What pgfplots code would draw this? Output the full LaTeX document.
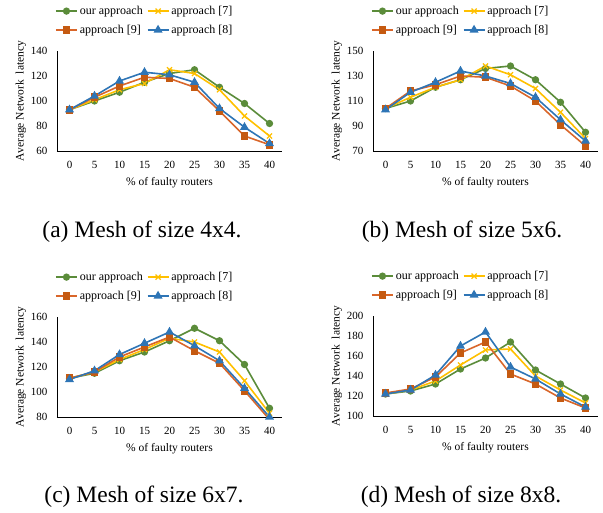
\documentclass[border=0pt]{standalone}
\usepackage{pgfplots}
\pgfplotsset{compat=1.18}
\usepackage{fontspec}
\setmainfont{Liberation Serif}
\definecolor{cgreen}{HTML}{5B8C3A}
\definecolor{cyellow}{HTML}{FFC000}
\definecolor{corange}{HTML}{D9662A}
\definecolor{corangem}{HTML}{C55A11}
\definecolor{cblue}{HTML}{2E75B6}
\pgfplotsset{
  panel/.style={
    scale only axis, width=225pt, height=100pt,
    xmin=-2.5, xmax=42.5, xtick={0,5,...,40},
    axis x line*=bottom, axis y line*=left,
    axis line style={-, black, line width=0.8pt},
    major tick length=0pt,
    /pgf/number format/assume math mode=true,
    tick label style={font=\fontsize{11}{13}\selectfont},
    xticklabel style={yshift=-7pt},
    yticklabel style={xshift=-6pt},
    xlabel={\% of faulty routers},
    ylabel={Average Network\ \ latency},
    label style={font=\fontsize{11.5}{13}\selectfont},
    xlabel style={yshift=-2pt},
    ylabel style={yshift=-2pt},
    legend columns=2,
    legend cell align=left,
    legend style={draw=none, fill=none, font=\fontsize{12}{14}\selectfont,
      at={(0.39,1.49)}, anchor=north, row sep=5pt,
      /tikz/every even column/.append style={column sep=2pt}},
    legend image code/.code={\draw[mark repeat=2,mark phase=2] plot coordinates {(0pt,0pt)(10.5pt,0pt)(21pt,0pt)};},
  },
  sg/.style={color=cgreen, line width=1.6pt, mark=*, mark size=2.8pt, mark options={solid}},
  sy/.style={color=cyellow, line width=1.6pt, mark=x, mark size=3.6pt, mark options={solid, line width=1.2pt}},
  so/.style={color=corange, line width=1.6pt, mark=square*, mark size=3pt, mark options={solid, fill=corangem, draw=corangem}},
  sb/.style={color=cblue, line width=1.6pt, mark=triangle*, mark size=3.6pt, mark options={solid}},
}
\begin{document}
\begin{tikzpicture}
\path[use as bounding box] (0pt,0pt) rectangle (603pt,512pt);
% (a)
\begin{axis}[panel, at={(57pt,361pt)}, anchor=south west, ymin=60, ymax=140, ytick={60,80,...,140}]
\addplot[sg] coordinates {(0,93)(5,100)(10,107)(15,115)(20,122)(25,125)(30,111)(35,98)(40,82)};
\addplot[sy] coordinates {(0,93)(5,101)(10,109)(15,114)(20,125)(25,122)(30,109)(35,88)(40,72)};
\addplot[so] coordinates {(0,93)(5,103)(10,112)(15,119)(20,118)(25,111)(30,92)(35,72)(40,65)};
\addplot[sb] coordinates {(0,93)(5,104)(10,116)(15,123)(20,121)(25,115)(30,94)(35,79)(40,66)};
\legend{our approach, approach [7], approach [9], approach [8]}
\end{axis}
% (b)
\begin{axis}[panel, at={(373pt,361pt)}, anchor=south west, ymin=70, ymax=150, ytick={70,90,...,150}]
\addplot[sg] coordinates {(0,104)(5,110)(10,121)(15,127)(20,136)(25,138)(30,127)(35,109)(40,85)};
\addplot[sy] coordinates {(0,104)(5,113)(10,121)(15,127)(20,138)(25,131)(30,120)(35,101)(40,80)};
\addplot[so] coordinates {(0,104)(5,118)(10,123)(15,130)(20,129)(25,122)(30,110)(35,91)(40,74)};
\addplot[sb] coordinates {(0,103)(5,117)(10,125)(15,134)(20,130)(25,124)(30,113)(35,95)(40,78)};
\legend{our approach, approach [7], approach [9], approach [8]}
\end{axis}
% (c)
\begin{axis}[panel, at={(57pt,95pt)}, anchor=south west, ymin=80, ymax=160, ytick={80,100,...,160}]
\addplot[sg] coordinates {(0,111)(5,115)(10,125)(15,132)(20,141)(25,151)(30,141)(35,122)(40,87)};
\addplot[sy] coordinates {(0,111)(5,116)(10,126)(15,134)(20,143)(25,140)(30,132)(35,109)(40,83)};
\addplot[so] coordinates {(0,111)(5,116)(10,128)(15,136)(20,144)(25,133)(30,123)(35,101)(40,78)};
\addplot[sb] coordinates {(0,110)(5,117)(10,130)(15,139)(20,148)(25,137)(30,125)(35,103)(40,80)};
\legend{our approach, approach [7], approach [9], approach [8]}
\end{axis}
% (d)
\begin{axis}[panel, at={(373pt,96pt)}, anchor=south west, ymin=100, ymax=200, ytick={100,120,...,200}]
\addplot[sg] coordinates {(0,122)(5,125)(10,132)(15,147)(20,158)(25,174)(30,146)(35,132)(40,118)};
\addplot[sy] coordinates {(0,122)(5,126)(10,135)(15,151)(20,166)(25,167)(30,140)(35,126)(40,113)};
\addplot[so] coordinates {(0,123)(5,127)(10,139)(15,163)(20,174)(25,142)(30,132)(35,118)(40,108)};
\addplot[sb] coordinates {(0,122)(5,126)(10,141)(15,170)(20,184)(25,149)(30,137)(35,122)(40,109)};
\legend{our approach, approach [7], approach [9], approach [8]}
\end{axis}
\node[anchor=base, font=\fontsize{23.5}{26}\selectfont] at (142pt,274pt) {(a) Mesh of size 4x4.};
\node[anchor=base, font=\fontsize{23.5}{26}\selectfont] at (462pt,274pt) {(b) Mesh of size 5x6.};
\node[anchor=base, font=\fontsize{23.5}{26}\selectfont] at (144pt,10pt) {(c) Mesh of size 6x7.};
\node[anchor=base, font=\fontsize{23.5}{26}\selectfont] at (461pt,10pt) {(d) Mesh of size 8x8.};
\end{tikzpicture}
\end{document}
